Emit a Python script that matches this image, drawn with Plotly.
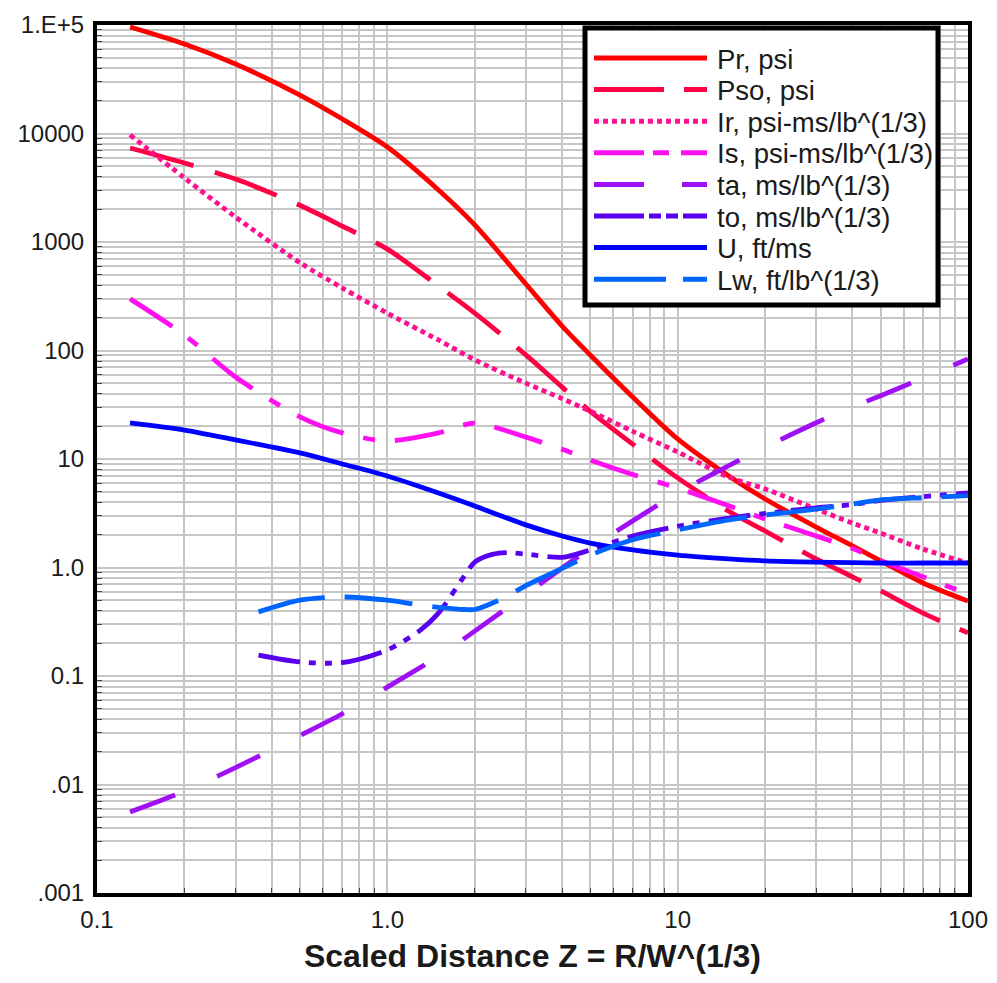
import plotly.graph_objects as go

# ---- data ----
Z = [0.13, 0.2, 0.3, 0.5, 0.7, 1.0, 1.5, 2.0, 3.0, 4.0, 5.0, 7.0, 10, 15, 20, 30, 40, 50, 70, 100]
Pr = [95900, 66800, 43700, 22600, 13600, 7510, 3020, 1440, 410, 168, 91, 37.3, 15.3, 6.97, 4.28, 2.36, 1.58, 1.15, 0.72, 0.49]
Pso = [7350, 5350, 3800, 2180, 1400, 860, 393, 221, 91, 46, 27.5, 13.7, 6.7, 3.3, 2.17, 1.2, 0.82, 0.61, 0.38, 0.25]
Ir = [9700, 3900, 1700, 645, 377, 221, 125, 82, 50, 36, 27.6, 18, 11.6, 6.8, 5.3, 3.46, 2.57, 2.08, 1.48, 1.1]
Is = [299, 139, 57, 24.5, 17.4, 14.7, 17.4, 21.4, 15.9, 12.3, 9.8, 7.2, 5.4, 3.7, 2.8, 1.95, 1.5, 1.16, 0.82, 0.57]
ta = [0.00558, 0.00865, 0.0143, 0.0283, 0.0449, 0.0789, 0.152, 0.259, 0.566, 0.989, 1.51, 2.69, 4.86, 8.68, 12.85, 21.6, 30.2, 38.3, 55.8, 83.5]
U = [21.5, 18.5, 15.0, 11.4, 9.0, 6.97, 4.86, 3.69, 2.47, 1.95, 1.68, 1.45, 1.30, 1.20, 1.15, 1.12, 1.11, 1.10, 1.10, 1.10]

Z2 = [0.36, 0.5, 0.7, 1.0, 1.3, 1.5, 1.85, 2.0, 2.3, 2.6, 3.0, 4.0, 5.0, 7.0, 10, 15, 20, 30, 40, 50, 70, 100]
to = [0.156, 0.135, 0.133, 0.174, 0.265, 0.38, 0.85, 1.12, 1.32, 1.37, 1.33, 1.24, 1.45, 1.95, 2.4, 2.85, 3.15, 3.55, 3.8, 4.15, 4.5, 4.87]
Lw = [0.39, 0.50, 0.535, 0.50, 0.45, 0.43, 0.41, 0.41, 0.47, 0.55, 0.68, 0.98, 1.30, 1.8, 2.22, 2.75, 3.05, 3.45, 3.85, 4.2, 4.4, 4.6]

names = ["Pr, psi", "Pso, psi", "Ir, psi-ms/lb^(1/3)", "Is, psi-ms/lb^(1/3)",
         "ta, ms/lb^(1/3)", "to, ms/lb^(1/3)", "U, ft/ms", "Lw, ft/lb^(1/3)"]

y_tickvals = [0.001, 0.01, 0.1, 1, 10, 100, 1000, 10000, 100000]
y_ticktext = [".001", ".01", "0.1", "1.0", "10", "100", "1000", "10000", "1.E+5"]
x_tickvals = [0.1, 1, 10, 100]
x_ticktext = ["0.1", "1.0", "10", "100"]

# ---- styling ----
xs = [Z, Z, Z, Z, Z, Z2, Z, Z2]
ys = [Pr, Pso, Ir, Is, ta, to, U, Lw]
colors = ["#FF0000", "#FF0044", "#FF1090", "#FF10F0", "#A010F5", "#5A00F0", "#0000FF", "#0064FF"]
dashes = ["solid", "66px,22px", "5px,4px", "50px,20px,12px,20px", "48px,46px",
          "42px,9px,7px,9px,7px,9px", "solid", "68px,20px"]
legend_dashes = ["solid", "70px,20px", "5px,4px", "50px,9px,16px,12px", "50px,38px",
                 "50px,5px,12px,5px,12px,5px", "solid", "72px,17px"]
FONT = "Liberation Sans, Arial, sans-serif"
LW = 4.8

fig = go.Figure()
for x, y, n, c, d in zip(xs, ys, names, colors, dashes):
    fig.add_trace(go.Scatter(x=x, y=y, name=n, mode="lines", showlegend=False,
                             line=dict(color=c, width=LW, dash=d, shape="spline", smoothing=0.8)))

minor_x = [m * 10 ** e for e in range(-1, 2) for m in range(2, 10)]
minor_y = [m * 10 ** e for e in range(-3, 5) for m in range(2, 10)]

grid = "#C6C6C6"
common = dict(type="log", tickmode="array", showline=True, mirror=True, linewidth=4, linecolor="black",
              showgrid=True, gridcolor=grid, gridwidth=1.5, ticks="", zeroline=False, automargin=False,
              tickfont=dict(family=FONT, size=24, color="#1a1a1a"))
fig.update_xaxes(range=[-1, 2], tickvals=x_tickvals, ticktext=x_ticktext, ticklabelstandoff=2,
                 minor=dict(tickmode="array", tickvals=minor_x, showgrid=True, gridcolor=grid, gridwidth=1.5,
                            ticks="inside", ticklen=5, tickcolor="#444"),
                 title=dict(text="<b>Scaled Distance Z = R/W^(1/3)</b>", standoff=14,
                            font=dict(family=FONT, size=32, color="#1a1a1a")),
                 **common)
fig.update_yaxes(range=[-3, 5], tickvals=y_tickvals, ticktext=y_ticktext, ticklabelstandoff=4,
                 minor=dict(tickmode="array", tickvals=minor_y, showgrid=True, gridcolor=grid, gridwidth=1.5,
                            ticks="inside", ticklen=5, tickcolor="#444"),
                 **common)

# ---- legend box (drawn as layout decoration, in paper coordinates) ----
W_PLOT, H_PLOT, L0, T0 = 871.0, 868.0, 97.0, 25.0
def px(xp): return (xp - L0) / W_PLOT
def py(yp): return 1 - (yp - T0) / H_PLOT

shapes = [dict(type="rect", xref="paper", yref="paper", layer="above",
               x0=px(585), x1=px(938), y0=py(305), y1=py(28),
               line=dict(color="black", width=5), fillcolor="white")]
annotations = []
for i, (n, c, d) in enumerate(zip(names, colors, legend_dashes)):
    yc = 58 + i * 31.6
    shapes.append(dict(type="line", xref="paper", yref="paper", layer="above",
                       x0=px(594), x1=px(707), y0=py(yc), y1=py(yc),
                       line=dict(color=c, width=5, dash=d)))
    annotations.append(dict(xref="paper", yref="paper", x=px(715), y=py(yc + 1), xanchor="left",
                            yanchor="middle", text=n, showarrow=False,
                            font=dict(family=FONT, size=27.5, color="#1a1a1a")))

fig.update_layout(
    width=981, height=967,
    margin=dict(l=89, r=21, t=17, b=82, autoexpand=False),
    plot_bgcolor="white", paper_bgcolor="white",
    showlegend=False, shapes=shapes, annotations=annotations,
)

fig.write_html("out.html")
